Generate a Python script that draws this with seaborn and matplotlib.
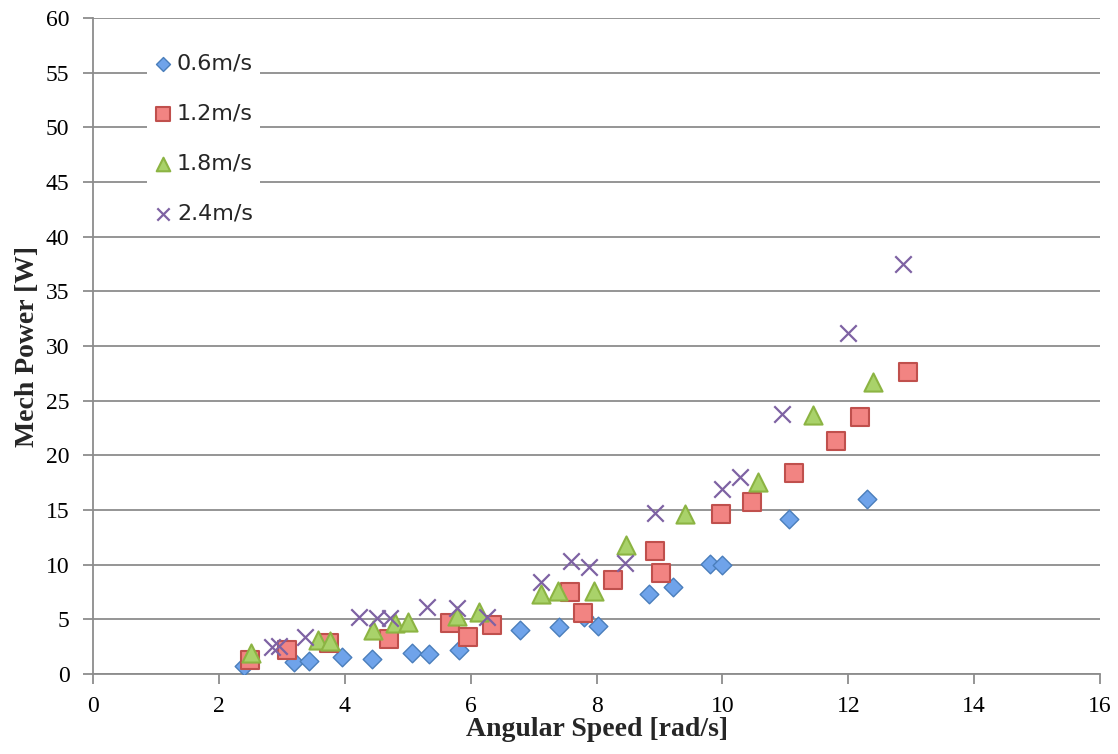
import matplotlib
matplotlib.use("Agg")
import matplotlib.pyplot as plt
import numpy as np
import pandas as pd
import seaborn as sns

# 0.6 m/s
x06 = [2.4, 3.2, 3.43, 3.95, 4.43, 5.06, 5.33, 5.82, 6.78, 7.4, 7.8, 8.02, 8.83, 9.22, 9.8, 10.0, 11.05, 12.3]
y06 = [0.7, 1.1, 1.2, 1.6, 1.4, 1.9, 1.8, 2.2, 4.0, 4.3, 5.2, 4.4, 7.3, 8.0, 10.1, 10.0, 14.2, 16.0]
# 1.2 m/s
x12 = [2.5, 3.08, 3.75, 4.7, 5.67, 5.96, 6.34, 7.58, 7.78, 8.26, 8.93, 9.02, 9.98, 10.47, 11.14, 11.8, 12.19, 12.95]
y12 = [1.3, 2.2, 2.8, 3.2, 4.7, 3.4, 4.5, 7.5, 5.6, 8.6, 11.3, 9.2, 14.6, 15.7, 18.4, 21.3, 23.5, 27.6]
# 1.8 m/s
x18 = [2.51, 3.57, 3.77, 4.45, 4.8, 5.0, 5.78, 6.13, 7.11, 7.39, 7.96, 8.47, 9.41, 10.57, 11.44, 12.39]
y18 = [1.9, 3.1, 3.0, 4.0, 4.7, 4.8, 5.3, 5.7, 7.3, 7.6, 7.6, 11.8, 14.6, 17.6, 23.7, 26.7]
# 2.4 m/s
x24 = [2.85, 2.95, 3.37, 4.23, 4.51, 4.72, 5.31, 5.78, 6.26, 7.12, 7.59, 7.88, 8.45, 8.93, 9.99, 10.28, 10.95, 12.0, 12.87]
y24 = [2.5, 2.6, 3.4, 5.2, 5.1, 5.1, 6.1, 6.0, 5.2, 8.4, 10.3, 9.8, 10.2, 14.7, 16.9, 18.0, 23.8, 31.2, 37.5]

labels = ["0.6m/s", "1.2m/s", "1.8m/s", "2.4m/s"]
xticks = [0, 2, 4, 6, 8, 10, 12, 14, 16]
yticks = [0, 5, 10, 15, 20, 25, 30, 35, 40, 45, 50, 55, 60]

sns.set_theme(style="white")
plt.rcParams['font.family'] = ['DejaVu Sans']

fig = plt.figure(figsize=(11.18, 7.54), dpi=100)
ax = fig.add_axes([0.0832, 0.106, 0.9008, 0.870])

styles = [
    (x06, y06, "D", "#6fa3ea", "#4a7ebb", 90, 1.0),
    (x12, y12, "s", "#f28482", "#c0504d", 170, 1.5),
    (x18, y18, "^", "#a9d26a", "#8cb443", 170, 1.5),
    (x24, y24, "x", "#7e62a3", "#7e62a3", 140, 1.6),
]
for (xs, ys, m, fc, ec, s, lw), lab in zip(styles, labels):
    df = pd.DataFrame({"x": xs, "y": ys})
    if m == "x":
        sns.scatterplot(data=df, x="x", y="y", marker=m, s=s, color=fc,
                        linewidth=lw, label=lab, ax=ax, zorder=3)
    else:
        sns.scatterplot(data=df, x="x", y="y", marker=m, s=s, color=fc,
                        edgecolor=ec, linewidth=lw, label=lab, ax=ax, zorder=3)

ax.set_xlim(0, 16)
ax.set_ylim(0, 60)
ax.set_xticks(xticks)
ax.set_yticks(yticks)
ax.yaxis.grid(True, color="#8c8c8c", linewidth=1.3)
ax.set_axisbelow(True)
for side in ["top", "right"]:
    ax.spines[side].set_visible(False)
for side in ["left", "bottom"]:
    ax.spines[side].set_color("#8c8c8c")
    ax.spines[side].set_linewidth(1.3)
ax.tick_params(axis="both", direction="out", length=7, width=1.3, color="#8c8c8c",
               labelsize=17, labelcolor="black", bottom=True, left=True,
               labelfontfamily="Liberation Serif")
ax.tick_params(axis="x", pad=9)
ax.tick_params(axis="y", pad=10)

ax.set_xlabel("Angular Speed [rad/s]", fontsize=20, fontweight="bold",
              family="Liberation Serif", labelpad=0)
ax.set_ylabel("Mech Power [W]", fontsize=20, fontweight="bold",
              family="Liberation Serif", labelpad=4)

leg = ax.legend(loc="upper left", bbox_to_anchor=(0.0536, 0.956), frameon=True,
                fancybox=False, edgecolor="white", framealpha=1.0,
                fontsize=16, labelspacing=1.35, handletextpad=0.25,
                handlelength=0.8, borderpad=0.3, borderaxespad=0,
                markerscale=0.75)
leg.get_frame().set_linewidth(0)

fig.savefig("out.png", dpi=100)
